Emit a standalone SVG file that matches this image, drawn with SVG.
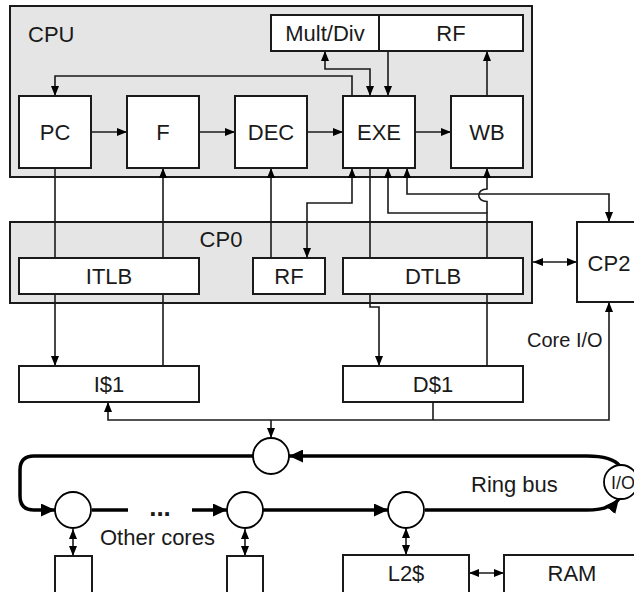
<svg xmlns="http://www.w3.org/2000/svg" width="634" height="592" viewBox="0 0 634 592">
<defs>
<style>
.grp{fill:#e5e5e5;stroke:#1a1a1a;stroke-width:2}
.box{fill:#fff;stroke:#1a1a1a;stroke-width:2}
.ln{fill:none;stroke:#1a1a1a;stroke-width:1.6}
.bus{fill:none;stroke:#000;stroke-width:3.5}
.nd{fill:#fff;stroke:#000;stroke-width:1.8}
text{font-family:"Liberation Sans",Arial,sans-serif;font-size:22px;fill:#1a1a1a;text-anchor:middle}
.st{text-anchor:start}
</style>
<marker id="a" markerUnits="userSpaceOnUse" markerWidth="10" markerHeight="8" refX="10" refY="4" orient="auto-start-reverse"><path d="M0,0L10,4L0,8z" fill="#000"/></marker>
<marker id="b" markerUnits="userSpaceOnUse" markerWidth="14" markerHeight="13" refX="14" refY="6.5" orient="auto-start-reverse"><path d="M0,0L14,6.5L0,13z" fill="#000"/></marker>
</defs>
<g id="cpu">
<rect class="grp" x="10" y="6" width="522" height="171"/>
<text class="st" x="28" y="42">CPU</text>
</g>
<g id="cp0">
<rect class="grp" x="10" y="222" width="522" height="81"/>
<text x="221" y="247">CP0</text>
</g>
<g id="connectors">
<path class="ln" d="M91,132H127" marker-end="url(#a)"/>
<path class="ln" d="M199,132H235" marker-end="url(#a)"/>
<path class="ln" d="M307,132H343" marker-end="url(#a)"/>
<path class="ln" d="M415,132H451" marker-end="url(#a)"/>
<path class="ln" d="M352,96V76H55V96" marker-end="url(#a)"/>
<path class="ln" d="M370,96V69H325V51" marker-start="url(#a)" marker-end="url(#a)"/>
<path class="ln" d="M388,51V96" marker-end="url(#a)"/>
<path class="ln" d="M487,96V51" marker-end="url(#a)"/>
<path class="ln" d="M163,258V168" marker-end="url(#a)"/>
<path class="ln" d="M271,258V168" marker-end="url(#a)"/>
<path class="ln" d="M55,168V258"/>
<path class="ln" d="M55,294V366" marker-end="url(#a)"/>
<path class="ln" d="M163,366V294"/>
<path class="ln" d="M352,168V203H307V258" marker-start="url(#a)" marker-end="url(#a)"/>
<path class="ln" d="M370,168V258"/>
<path class="ln" d="M370,294V307H379V366" marker-end="url(#a)"/>
<path class="ln" d="M487,258V213H388V168" marker-end="url(#a)"/>
<path class="ln" d="M487,213V201.5C476,201.5 476,189 487,189V168" marker-end="url(#a)"/>
<path class="ln" d="M487,366V294"/>
<path class="ln" d="M407,168V194H609V222" marker-start="url(#a)" marker-end="url(#a)"/>
<path class="ln" d="M533,262H577" marker-start="url(#a)" marker-end="url(#a)"/>
<path class="ln" d="M108,402V420H609V302" marker-start="url(#a)" marker-end="url(#a)"/>
<path class="ln" d="M433,402V420"/>
<path class="ln" d="M271,420V438" marker-end="url(#a)"/>
<path class="bus" d="M253,456H34Q20,456 20,470V496Q20,510 34,510H55" marker-end="url(#b)"/>
<path class="bus" d="M92,510H128"/>
<path class="bus" d="M192,510H227" marker-end="url(#b)"/>
<path class="bus" d="M263,510H388" marker-end="url(#b)"/>
<path class="bus" d="M425,510H587Q610,510 619,499" marker-end="url(#b)"/>
<path class="bus" d="M620,466Q612,456 587,456H289" marker-end="url(#b)"/>
<path class="ln" d="M73,529V556" marker-start="url(#a)" marker-end="url(#a)"/>
<path class="ln" d="M245,529V556" marker-start="url(#a)" marker-end="url(#a)"/>
<path class="ln" d="M406,528V555" marker-start="url(#a)" marker-end="url(#a)"/>
<path class="ln" d="M469,573H504" marker-start="url(#a)" marker-end="url(#a)"/>
</g>
<g id="multdiv"><rect class="box" x="271" y="15" width="108" height="36"/><text x="325" y="41">Mult/Div</text></g>
<g id="rf"><rect class="box" x="379" y="15" width="144" height="36"/><text x="451" y="41">RF</text></g>
<g id="pc"><rect class="box" x="19" y="96" width="72" height="72"/><text x="55" y="140">PC</text></g>
<g id="f"><rect class="box" x="127" y="96" width="72" height="72"/><text x="163" y="140">F</text></g>
<g id="dec"><rect class="box" x="235" y="96" width="72" height="72"/><text x="271" y="140">DEC</text></g>
<g id="exe"><rect class="box" x="343" y="96" width="72" height="72"/><text x="379" y="140">EXE</text></g>
<g id="wb"><rect class="box" x="451" y="96" width="72" height="72"/><text x="487" y="140">WB</text></g>
<g id="itlb"><rect class="box" x="19" y="258" width="180" height="36"/><text x="109" y="284">ITLB</text></g>
<g id="rf0"><rect class="box" x="253" y="258" width="72" height="36"/><text x="289" y="284">RF</text></g>
<g id="dtlb"><rect class="box" x="343" y="258" width="180" height="36"/><text x="433" y="284">DTLB</text></g>
<g id="cp2"><rect class="box" x="577" y="222" width="64" height="80"/><text x="609" y="271">CP2</text></g>
<g id="coreio"><text class="st" x="527" y="347" style="font-size:20px">Core I/O</text></g>
<g id="i1"><rect class="box" x="19" y="366" width="180" height="36"/><text x="109" y="392">I$1</text></g>
<g id="d1"><rect class="box" x="343" y="366" width="180" height="36"/><text x="433" y="392">D$1</text></g>
<g id="n1"><circle class="nd" cx="271" cy="456" r="18"/></g>
<g id="n2"><circle class="nd" cx="73" cy="510" r="18"/></g>
<g id="n3"><circle class="nd" cx="245" cy="510" r="18"/></g>
<g id="n4"><circle class="nd" cx="406" cy="510" r="18"/></g>
<g id="io"><circle class="nd" cx="621" cy="482" r="17"/><text class="st" x="611" y="489" style="font-size:18px">I/O</text></g>
<g id="dots"><text x="160" y="516" style="font-weight:bold;font-size:26px">...</text></g>
<g id="othercores"><text class="st" x="100" y="545">Other cores</text></g>
<g id="ringbus"><text class="st" x="471" y="492">Ring bus</text></g>
<g id="core2"><rect class="box" x="55" y="556" width="37" height="45"/></g>
<g id="core3"><rect class="box" x="227" y="556" width="36" height="45"/></g>
<g id="l2"><rect class="box" x="343" y="555" width="126" height="40"/><text x="406" y="581">L2$</text></g>
<g id="ram"><rect class="box" x="504" y="555" width="140" height="40"/><text x="572" y="581">RAM</text></g>
</svg>
